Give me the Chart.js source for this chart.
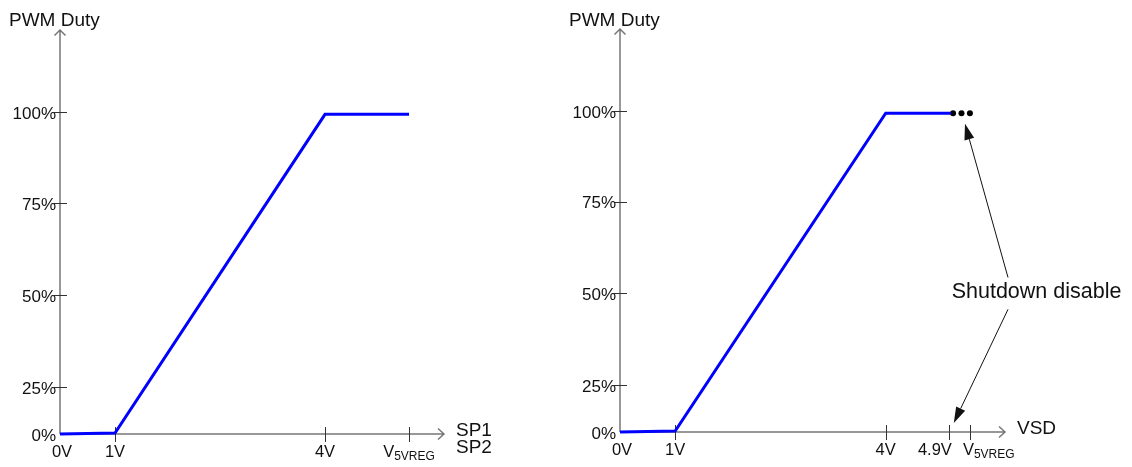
<!DOCTYPE html>
<html>
<head>
<meta charset="utf-8">
<script src="https://cdn.jsdelivr.net/npm/chart.js@4.4.1/dist/chart.umd.min.js"></script>
<style>
body{margin:0;background:#fff;}
#wrap{display:flex;width:1132px;height:467px;}
canvas{display:block;}
</style>
</head>
<body>
<div id="wrap">
<canvas id="chartSP" width="566" height="467"></canvas>
<canvas id="chartVSD" width="566" height="467"></canvas>
</div>
<script>
// schematic axes: where each tick sits and what it says
let xTickPos = [0.214, 1, 4, 5.2];
let xTickText = ['0V', '1V', '4V', 'V5VREG'];
let xTickPosVSD = [0.214, 1, 4, 4.9, 5.2];
let xTickTextVSD = ['0V', '1V', '4V', '4.9V', 'V5VREG'];
let yTickPos = [0, 14.6, 43.2, 71.7, 100];
let yTickText = ['0%', '25%', '50%', '75%', '100%'];

// duty curve vs SP1/SP2
let spVolts = [0.214, 1, 4, 5.2];
let spDuty = [0, 0.3, 99.3, 99.3];

// duty curve vs VSD
let vsdVolts = [0.214, 1, 4, 4.93];
let vsdDuty = [0, 0.3, 99.3, 99.3];
let dotVolts = [4.96, 5.08, 5.2];
let dotDuty = [99.3, 99.3, 99.3];

// "Shutdown disable" note: text spot and arrow tail/tip, in axis units
let noteAt = {x: 4.94, y: 43.5};
let noteArrows = [
	{fromX: 5.743, fromY: 48.1, toX: 5.13, toY: 96.0},
	{fromX: 5.743, fromY: 38.2, toX: 4.97, toY: 2.8}
];

let FONT = "'Liberation Sans', Arial, sans-serif";

function pts(xs, ys) {
	return xs.map(function(x, i){ return {x: x, y: ys[i]}; });
}

function drawSubLabel(ctx, x, y, align) {
	// V with 5VREG subscript
	ctx.font = '16.5px ' + FONT;
	let w1 = ctx.measureText('V').width;
	ctx.font = '12px ' + FONT;
	let w2 = ctx.measureText('5VREG').width;
	let left = align === 'left' ? x - 7 : x - (w1 + w2) / 2;
	ctx.textAlign = 'left';
	ctx.font = '16.5px ' + FONT;
	ctx.fillText('V', left, y);
	ctx.font = '12px ' + FONT;
	ctx.fillText('5VREG', left + w1, y + 3);
}

function axesPlugin(cfg) {
	return {
		id: 'axes_' + cfg.name,
		beforeDatasetsDraw: function(chart) {
			let ctx = chart.ctx, xs = chart.scales.x, ys = chart.scales.y, a = chart.chartArea;
			let x0 = a.left, y0 = ys.getPixelForValue(0), top = a.top, right = a.right;
			ctx.save();
			ctx.strokeStyle = '#777';
			ctx.lineWidth = 1.5;
			ctx.beginPath();
			ctx.moveTo(x0, y0); ctx.lineTo(x0, top);
			ctx.moveTo(x0 - 5.5, top + 5.5); ctx.lineTo(x0, top); ctx.lineTo(x0 + 5.5, top + 5.5);
			ctx.moveTo(x0, y0); ctx.lineTo(right, y0);
			ctx.moveTo(right - 6, y0 - 5.5); ctx.lineTo(right, y0); ctx.lineTo(right - 6, y0 + 5.5);
			ctx.stroke();

			ctx.strokeStyle = '#333';
			ctx.lineWidth = 1;
			ctx.beginPath();
			yTickPos.forEach(function(v){
				if (v === 0) return;
				let y = Math.round(ys.getPixelForValue(v)) + 0.5;
				ctx.moveTo(x0 - 6, y); ctx.lineTo(x0 + 7, y);
			});
			cfg.xTicks.forEach(function(v, i){
				if (i === 0) return;
				let x = Math.round(xs.getPixelForValue(v)) + 0.5;
				ctx.moveTo(x, y0 - 7); ctx.lineTo(x, y0 + 8);
			});
			ctx.stroke();

			ctx.fillStyle = '#111';
			ctx.font = '17px ' + FONT;
			ctx.textAlign = 'right';
			ctx.textBaseline = 'middle';
			yTickPos.forEach(function(v, i){
				ctx.fillText(yTickText[i], x0 - 4, ys.getPixelForValue(v) + 2);
			});

			ctx.textBaseline = 'alphabetic';
			cfg.xTicks.forEach(function(v, i){
				let x = xs.getPixelForValue(v);
				let align = cfg.xAlign ? cfg.xAlign[i] : 'center';
				if (i === 0) x += 2;
				if (cfg.xText[i] === 'V5VREG') {
					drawSubLabel(ctx, x, y0 + 23, align);
				} else {
					ctx.font = '16.5px ' + FONT;
					ctx.textAlign = align;
					ctx.fillText(cfg.xText[i], align === 'right' ? x + 3 : x, y0 + 23);
				}
			});

			// axis names
			ctx.font = '19px ' + FONT;
			ctx.textAlign = 'left';
			ctx.fillText('PWM Duty', x0 - 51, 26);
			ctx.textBaseline = 'middle';
			cfg.xName.forEach(function(t, i){
				ctx.fillText(t, right + 12, y0 - 3 + i * 16.5);
			});
			ctx.restore();
		}
	};
}

function drawArrow(ctx, x1, y1, x2, y2) {
	let ang = Math.atan2(y2 - y1, x2 - x1);
	let len = 16, half = 5;
	let bx = x2 - len * Math.cos(ang), by = y2 - len * Math.sin(ang);
	ctx.beginPath();
	ctx.moveTo(x1, y1); ctx.lineTo(bx, by);
	ctx.stroke();
	ctx.beginPath();
	ctx.moveTo(x2, y2);
	ctx.lineTo(bx + half * Math.sin(ang), by - half * Math.cos(ang));
	ctx.lineTo(bx - half * Math.sin(ang), by + half * Math.cos(ang));
	ctx.closePath();
	ctx.fill();
}

let notePlugin = {
	id: 'shutdownNote',
	afterDatasetsDraw: function(chart) {
		let ctx = chart.ctx, xs = chart.scales.x, ys = chart.scales.y;
		ctx.save();
		ctx.fillStyle = '#111';
		ctx.strokeStyle = '#111';
		ctx.lineWidth = 1;
		ctx.font = '21.5px ' + FONT;
		ctx.textAlign = 'left';
		ctx.textBaseline = 'middle';
		ctx.fillText('Shutdown disable', xs.getPixelForValue(noteAt.x), ys.getPixelForValue(noteAt.y));
		noteArrows.forEach(function(r){
			drawArrow(ctx, xs.getPixelForValue(r.fromX), ys.getPixelForValue(r.fromY),
				xs.getPixelForValue(r.toX), ys.getPixelForValue(r.toY));
		});
		ctx.restore();
	}
};

function baseOptions(pad) {
	return {
		responsive: false,
		animation: false,
		devicePixelRatio: 1,
		layout: {padding: pad},
		plugins: {legend: {display: false}, tooltip: {enabled: false}, title: {display: false}},
		scales: {
			x: {type: 'linear', min: 0.214, max: 5.7, display: false},
			y: {type: 'linear', min: 0, max: 125.5, display: false}
		}
	};
}

let chartSP = new Chart(document.getElementById('chartSP').getContext('2d'), {
	type: 'line',
	data: {
		datasets: [{
			label: 'PWM Duty',
			data: pts(spVolts, spDuty),
			borderColor: '#0000ff',
			borderWidth: 3,
			pointRadius: 0,
			tension: 0,
			clip: false
		}]
	},
	options: baseOptions({left: 60, top: 30, right: 122, bottom: 33}),
	plugins: [axesPlugin({name: 'sp', xTicks: xTickPos, xText: xTickText, xName: ['SP1', 'SP2']})]
});

let chartVSD = new Chart(document.getElementById('chartVSD').getContext('2d'), {
	type: 'line',
	data: {
		datasets: [{
			label: 'PWM Duty',
			data: pts(vsdVolts, vsdDuty),
			borderColor: '#0000ff',
			borderWidth: 3,
			pointRadius: 0,
			tension: 0,
			clip: false
		}, {
			label: 'continued',
			data: pts(dotVolts, dotDuty),
			showLine: false,
			pointRadius: 3,
			pointBackgroundColor: '#000',
			pointBorderColor: '#000',
			pointBorderWidth: 0,
			clip: false
		}]
	},
	options: baseOptions({left: 54, top: 29, right: 127, bottom: 35}),
	plugins: [axesPlugin({
		name: 'vsd', xTicks: xTickPosVSD, xText: xTickTextVSD, xName: ['VSD'],
		xAlign: ['center', 'center', 'center', 'right', 'left']
	}), notePlugin]
});
</script>
</body>
</html>
